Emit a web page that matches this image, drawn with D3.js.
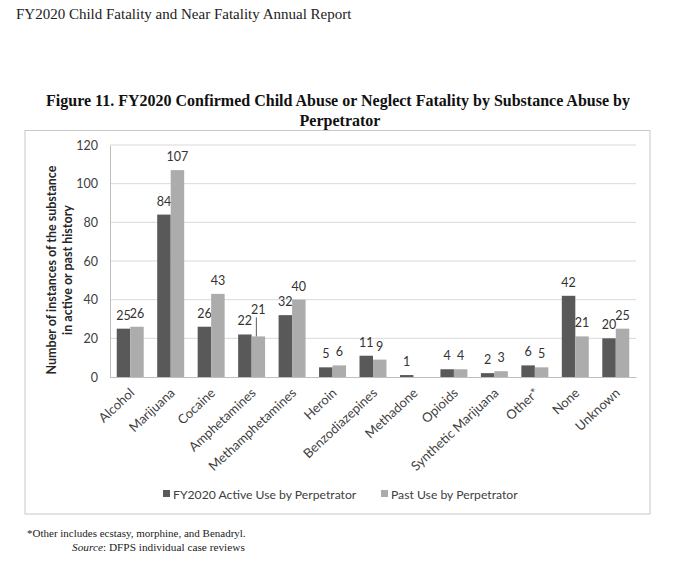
<!DOCTYPE html>
<html>
<head>
<meta charset="utf-8">
<script src="https://cdn.jsdelivr.net/npm/d3@7"></script>
<style>
  body { margin: 0; background: #fff; }
</style>
</head>
<body>
<div id="container"></div>
<script>
// substances and the two series
let categories = ["Alcohol", "Marijuana", "Cocaine", "Amphetamines", "Methamphetamines", "Heroin",
  "Benzodiazepines", "Methadone", "Opioids", "Synthetic Marijuana", "Other*", "None", "Unknown"];
let activeUse = [25, 84, 26, 22, 32, 5, 11, 1, 4, 2, 6, 42, 20];
let pastUse = [26, 107, 43, 21, 40, 6, 9, 0, 4, 3, 5, 21, 25];
let seriesNames = ["FY2020 Active Use by Perpetrator", "Past Use by Perpetrator"];
let yTicks = [0, 20, 40, 60, 80, 100, 120];

let w = 680;
let h = 562;
let plotLeft = 110, plotRight = 636, plotTop = 145, plotBottom = 377;
let colors = ["#595959", "#acacac"];

let viz = d3.select("#container")
  .append("svg")
    .attr("width", w)
    .attr("height", h)
    .style("background-color", "white");

// page header + figure title
viz.append("text")
  .attr("x", 16).attr("y", 19)
  .attr("font-family", "Liberation Serif")
  .attr("font-size", 15)
  .attr("fill", "#222")
  .text("FY2020 Child Fatality and Near Fatality Annual Report");

viz.append("text")
  .attr("x", 338).attr("y", 106)
  .attr("text-anchor", "middle")
  .attr("font-family", "Liberation Serif")
  .attr("font-weight", "bold")
  .attr("font-size", 16)
  .attr("fill", "#111")
  .text("Figure 11. FY2020 Confirmed Child Abuse or Neglect Fatality by Substance Abuse by");
viz.append("text")
  .attr("x", 340).attr("y", 126)
  .attr("text-anchor", "middle")
  .attr("font-family", "Liberation Serif")
  .attr("font-weight", "bold")
  .attr("font-size", 16)
  .attr("fill", "#111")
  .text("Perpetrator");

// chart box
viz.append("rect")
  .attr("x", 25).attr("y", 130.5)
  .attr("width", 625).attr("height", 383.5)
  .attr("fill", "none")
  .attr("stroke", "#c8c8c8");

let xScale = d3.scaleBand().domain(categories).range([plotLeft, plotRight]);
let subScale = d3.scaleBand().domain([0, 1]).range([0, xScale.bandwidth()]).paddingOuter(0.5).paddingInner(0);
let yScale = d3.scaleLinear().domain([0, 120]).range([plotBottom, plotTop]);

// gridlines
viz.selectAll(".grid").data(yTicks.slice(1)).enter()
  .append("line")
    .attr("x1", plotLeft).attr("x2", plotRight)
    .attr("y1", d => yScale(d)).attr("y2", d => yScale(d))
    .attr("stroke", "#d9d9d9");

// y axis
let yAxis = viz.append("g")
  .attr("transform", "translate(" + plotLeft + ",0)")
  .call(d3.axisLeft(yScale).tickValues(yTicks).tickSize(0).tickPadding(12));
yAxis.select(".domain").attr("stroke", "#bfbfbf");
yAxis.selectAll("text")
  .attr("font-family", "Lato")
  .attr("font-size", 12.5)
  .attr("fill", "#404040");

// bars
let series = [activeUse, pastUse];
series.forEach(function(values, s){
  let groups = viz.selectAll(".bar" + s).data(values).enter().append("g");
  groups.append("rect")
    .attr("x", (d, i) => xScale(categories[i]) + subScale(s))
    .attr("y", d => yScale(d))
    .attr("width", subScale.bandwidth())
    .attr("height", d => plotBottom - yScale(d))
    .attr("fill", colors[s]);
  groups.append("text")
    .attr("x", (d, i) => xScale(categories[i]) + subScale(s) + subScale.bandwidth() / 2)
    .attr("y", function(d, i){
      // Amphetamines past-use label sits up with a leader line
      if (s == 1 && categories[i] == "Amphetamines") return yScale(d) - 22;
      return yScale(d) - 9;
    })
    .attr("text-anchor", "middle")
    .attr("font-family", "Lato")
    .attr("font-size", 12.5)
    .attr("fill", "#333")
    .text(d => d > 0 ? d : "");
});

// leader line for Amphetamines "21"
let ai = categories.indexOf("Amphetamines");
let lx = xScale("Amphetamines") + subScale(1) + subScale.bandwidth() / 2 - 2;
viz.append("line")
  .attr("x1", lx).attr("x2", lx)
  .attr("y1", yScale(pastUse[ai]) - 19)
  .attr("y2", yScale(pastUse[ai]))
  .attr("stroke", "#595959");

// x axis
let xAxis = viz.append("g")
  .attr("transform", "translate(0," + plotBottom + ")")
  .call(d3.axisBottom(xScale).tickSize(0).tickPadding(0));
xAxis.select(".domain").attr("stroke", "#bfbfbf");
xAxis.selectAll("text")
  .attr("font-family", "Lato")
  .attr("font-size", 13)
  .attr("fill", "#404040")
  .attr("text-anchor", "end")
  .attr("dy", 0)
  .attr("transform", "translate(5,17) rotate(-43)");

// y axis title
let yTitle = viz.append("text")
  .attr("transform", "translate(56,270) rotate(-90)")
  .attr("text-anchor", "middle")
  .attr("font-family", "Lato")
  .attr("font-weight", "bold")
  .attr("font-size", 12.5)
  .attr("fill", "#262626");
yTitle.append("tspan").attr("x", 0).attr("dy", 0).text("Number of instances of the substance");
yTitle.append("tspan").attr("x", 0).attr("dy", 16).text("in active or past history");

// legend
let legendX = [163, 381];
let legend = viz.selectAll(".legend").data(seriesNames).enter()
  .append("g")
    .attr("transform", (d, i) => "translate(" + legendX[i] + ",494)");
legend.append("rect")
  .attr("x", 0).attr("y", -4)
  .attr("width", 7).attr("height", 7)
  .attr("fill", (d, i) => colors[i]);
legend.append("text")
  .attr("x", 10).attr("y", 4.5)
  .attr("font-family", "Lato")
  .attr("font-size", 12.2)
  .attr("fill", "#404040")
  .text(d => d);

// footnotes
viz.append("text")
  .attr("x", 27).attr("y", 537)
  .attr("font-family", "Liberation Serif")
  .attr("font-size", 11)
  .attr("fill", "#222")
  .text("*Other includes ecstasy, morphine, and Benadryl.");
let src = viz.append("text")
  .attr("x", 72).attr("y", 551)
  .attr("font-family", "Liberation Serif")
  .attr("font-size", 11.3)
  .attr("fill", "#222");
src.append("tspan").attr("font-style", "italic").text("Source");
src.append("tspan").text(": DFPS individual case reviews");
</script>
</body>
</html>
